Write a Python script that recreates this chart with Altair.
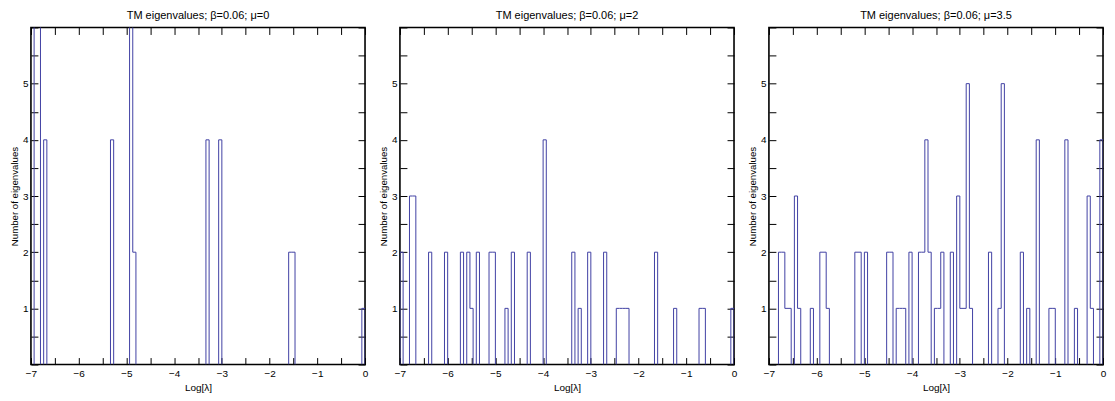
import altair as alt
import pandas as pd

# ---------------- data ----------------
BIN_W = 1 / 15          # histogram bin width in Log[lambda]
X_MIN, X_MAX = -7, 0
Y_MAX = 6

titles = [
    "TM eigenvalues; β=0.06; μ=0",
    "TM eigenvalues; β=0.06; μ=2",
    "TM eigenvalues; β=0.06; μ=3.5",
]

# non-empty bins (index from X_MIN) and counts
p1_bins = [1, 2, 4, 25, 31, 32, 55, 59, 81, 82, 104]
p1_counts = [8, 7, 4, 4, 7, 2, 4, 4, 2, 2, 1]

p2_bins = [0, 3, 4, 9, 14, 19, 21, 22, 24, 28, 29, 33, 35, 40, 45, 54, 56, 59,
           64, 68, 69, 70, 71, 80, 86, 94, 95, 104]
p2_counts = [2, 3, 3, 2, 2, 2, 2, 1, 2, 2, 2, 1, 2, 2, 4, 2, 1, 2,
             2, 1, 1, 1, 1, 2, 1, 1, 1, 1]

p3_bins = [3, 4, 5, 6, 8, 9, 13, 16, 17, 18, 27, 28, 30, 37, 38, 40, 41, 42, 44,
           47, 48, 49, 50, 52, 53, 54, 57, 59, 60, 61, 62, 63, 69, 72, 73, 79,
           81, 84, 88, 89, 93, 96, 100, 101, 104]
p3_counts = [2, 2, 1, 1, 3, 1, 1, 2, 2, 1, 2, 2, 2, 2, 2, 1, 1, 1, 2,
             2, 2, 4, 2, 1, 1, 2, 2, 3, 1, 1, 5, 1, 2, 1, 5, 2,
             1, 4, 1, 1, 4, 1, 3, 1, 4]

x_label_vals = [-7, -6, -5, -4, -3, -2, -1, 0]
x_tick_vals = [-7 + 0.5 * i for i in range(15)]
y_label_vals = [1, 2, 3, 4, 5]
y_tick_vals = [0.5 * i for i in range(13)]

# ---------------- styling ----------------
W, H = 335, 338
LINE = "#4040a4"
FONT = "Liberation Sans"


def outline(bins, counts):
    """Step outline of the histogram, one path per run of adjacent bins."""
    groups = []
    for b, c in zip(bins, counts):
        if groups and b == groups[-1][-1][0] + 1:
            groups[-1].append((b, c))
        else:
            groups.append([(b, c)])
    rows = []
    for gid, g in enumerate(groups):
        o = 0
        rows.append(dict(x=X_MIN + g[0][0] * BIN_W, y=0, g=gid, o=o))
        for b, c in g:
            o += 1
            rows.append(dict(x=X_MIN + b * BIN_W, y=c, g=gid, o=o))
        o += 1
        rows.append(dict(x=X_MIN + (g[-1][0] + 1) * BIN_W, y=0, g=gid, o=o))
    return pd.DataFrame(rows)


def panel(bins, counts, title):
    df = outline(bins, counts)
    base = alt.Chart(df)
    xs = alt.Scale(domain=[X_MIN, X_MAX], nice=False, zero=False)
    ys = alt.Scale(domain=[0, Y_MAX], nice=False, zero=False)

    hist = base.mark_line(interpolate="step-after", clip=True, color=LINE,
                          strokeWidth=1).encode(
        x=alt.X("x:Q", scale=xs,
                axis=alt.Axis(values=x_label_vals, ticks=False, domain=False,
                              grid=False, format="d", labelFlush=False,
                              labelPadding=4, titlePadding=4, labelFontSize=10,
                              titleFontSize=10, title="Log[λ]")),
        y=alt.Y("y:Q", scale=ys,
                axis=alt.Axis(values=y_label_vals, ticks=False, domain=False,
                              grid=False, format="d", labelPadding=3,
                              titlePadding=3, labelFontSize=10,
                              titleFontSize=9.7,
                              title="Number of eigenvalues")),
        detail="g:N",
        order="o:Q",
    )
    inner_a = base.mark_point(opacity=0, clip=True).encode(
        x=alt.X("x:Q", scale=xs,
                axis=alt.Axis(orient="top", offset=-H, values=x_tick_vals,
                              labels=False, domain=False, grid=False,
                              tickSize=7, title=None)),
        y=alt.Y("y:Q", scale=ys,
                axis=alt.Axis(orient="right", offset=-W, values=y_tick_vals,
                              labels=False, domain=False, grid=False,
                              tickSize=7, title=None)),
    )
    inner_b = base.mark_point(opacity=0, clip=True).encode(
        x=alt.X("x:Q", scale=xs,
                axis=alt.Axis(orient="bottom", offset=-H, values=x_tick_vals,
                              labels=False, domain=False, grid=False,
                              tickSize=7, title=None)),
        y=alt.Y("y:Q", scale=ys,
                axis=alt.Axis(orient="left", offset=-W, values=y_tick_vals,
                              labels=False, domain=False, grid=False,
                              tickSize=7, title=None)),
    )
    return alt.layer(hist, inner_a, inner_b).resolve_axis(
        x="independent", y="independent"
    ).properties(
        width=W, height=H,
        title=alt.TitleParams(title, fontSize=11, font=FONT,
                              fontWeight="normal", color="black", offset=6,
                              anchor="middle"),
    )


chart = alt.hconcat(
    panel(p1_bins, p1_counts, titles[0]),
    panel(p2_bins, p2_counts, titles[1]),
    panel(p3_bins, p3_counts, titles[2]),
    spacing=35,
    bounds="flush",
).properties(
    padding={"left": 0, "top": 0, "right": 0, "bottom": 0},
    background="white",
).configure_view(
    stroke="black", strokeWidth=1.6
).configure_axis(
    labelFont=FONT, labelColor="black",
    titleFont=FONT, titleColor="black",
    titleFontWeight="normal", tickColor="black", tickWidth=1,
)

chart.save("out.html", embed_options={"renderer": "svg", "actions": False})
